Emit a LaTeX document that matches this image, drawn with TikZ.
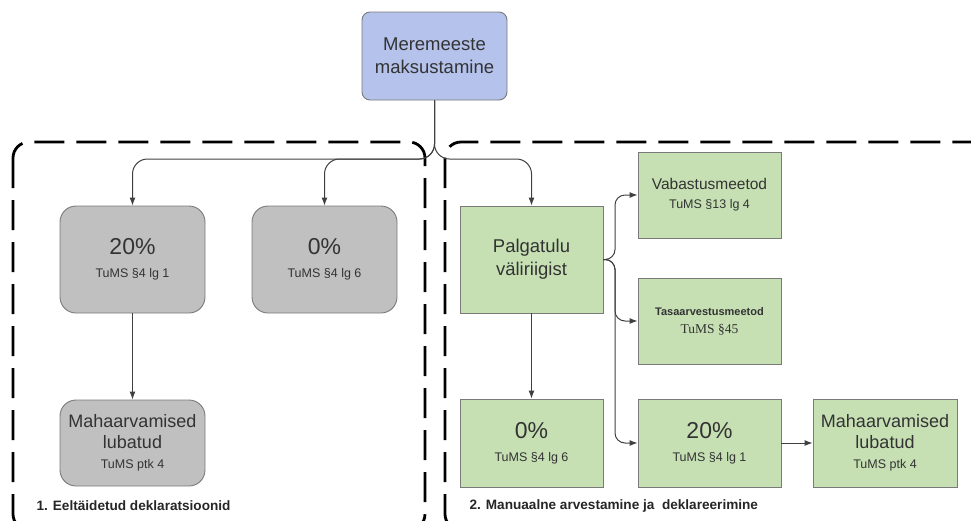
\documentclass[tikz,border=0pt]{standalone}
\usepackage{fontspec}
\setmainfont{Liberation Sans}
\newfontfamily\serifface{Liberation Serif}
\usetikzlibrary{arrows.meta}
\definecolor{txt}{HTML}{333333}
\definecolor{bluefill}{HTML}{B4C2EC}
\definecolor{grayfill}{HTML}{C0C0C0}
\definecolor{greenfill}{HTML}{C6E0B4}
\definecolor{edge}{HTML}{7A7A7A}
\newcommand{\smalltxt}[1]{{\fontsize{12.5}{15}\selectfont #1}}
\tikzset{
  box/.style={draw=edge, line width=0.9pt, text=txt, align=center, inner sep=2pt},
  bluebox/.style={box, fill=bluefill, rounded corners=8pt, minimum width=145pt, minimum height=88pt},
  graybox/.style={box, fill=grayfill, rounded corners=16pt, minimum width=145pt},
  greenbox/.style={box, fill=greenfill, minimum width=143pt},
  pct/.style={font=\fontsize{23}{23}\selectfont},
  label2/.style={font=\fontsize{18.5}{23}\selectfont},
  label3/.style={font=\fontsize{18}{20.5}\selectfont},
  region/.style={draw=black, line width=2.8pt, dash pattern=on 30pt off 12pt, rounded corners=16pt},
  conn/.style={draw=black!75, line width=1pt, -{Latex[length=8pt,width=6pt]}},
  caption/.style={font=\bfseries\fontsize{13.6}{16}\selectfont, text=black!85, anchor=west}
}
\begin{document}
\begin{tikzpicture}[x=1pt, y=-1pt]
\useasboundingbox (0,0) rectangle (971,520);

% dashed regions
\draw[region] (13,142) rectangle (425,530);
\draw[region] (445,142) rectangle (995,530);

% root
\node[bluebox, label2] (root) at (434.5,56) {Meremeeste\\maksustamine};

% prefilled declarations
\node[graybox, pct, minimum height=107pt] (p20) at (132.5,259.5) {20\%\\\smalltxt{TuMS §4 lg 1}};
\node[graybox, pct, minimum height=107pt] (p0) at (324.5,259.5) {0\%\\\smalltxt{TuMS §4 lg 6}};
\node[graybox, label3, minimum height=86pt] (pded) at (132.5,443) {Mahaarvamised\\lubatud\\\smalltxt{TuMS ptk 4}};

% manual calculation
\node[greenbox, label2, minimum height=107pt] (wage) at (531.5,259.5) {Palgatulu\\väliriigist};
\node[greenbox, font=\fontsize{15.5}{19}\selectfont, minimum height=86pt] (exempt) at (709.5,195) {Vabastusmeetod\\\smalltxt{TuMS §13 lg 4}};
\node[greenbox, font=\fontsize{11}{18}\selectfont, minimum height=86pt] (credit) at (709.5,321) {\textbf{Tasaarvestusmeetod}\\{\serifface\fontsize{13.5}{16}\selectfont TuMS §45}};
\node[greenbox, pct, minimum height=88pt] (m0) at (531.5,443) {0\%\\\smalltxt{TuMS §4 lg 6}};
\node[greenbox, pct, minimum height=88pt] (m20) at (709.5,443) {20\%\\\smalltxt{TuMS §4 lg 1}};
\node[greenbox, label3, minimum width=144pt, minimum height=88pt] (mded) at (885,443) {Mahaarvamised\\lubatud\\\smalltxt{TuMS ptk 4}};

% captions
\node[caption] (cap1) at (33,506) {1. Eeltäidetud deklaratsioonid};
\node[caption] (cap2) at (466,506) {2. Manuaalne arvestamine ja\ \ deklareerimine};

% connectors
\coordinate (split) at (434.5,159);
\coordinate (brace) at (615,259.5);
\draw[conn, rounded corners=15pt] (root.south) -- (split) -| (p20.north);
\draw[conn, rounded corners=15pt] (root.south) -- (split) -| (p0.north);
\draw[conn, rounded corners=15pt] (root.south) -- (split) -| (wage.north);
\draw[conn] (p20.south) -- (pded.north);
\draw[conn] (wage.south) -- (m0.north);
\draw[conn, rounded corners=10pt] (wage.east) -- (brace) |- (exempt.west);
\draw[conn, rounded corners=10pt] (wage.east) -- (brace) |- (credit.west);
\draw[conn, rounded corners=10pt] (wage.east) -- (brace) |- (m20.west);
\draw[conn] (m20.east) -- (mded.west);
\end{tikzpicture}
\end{document}
